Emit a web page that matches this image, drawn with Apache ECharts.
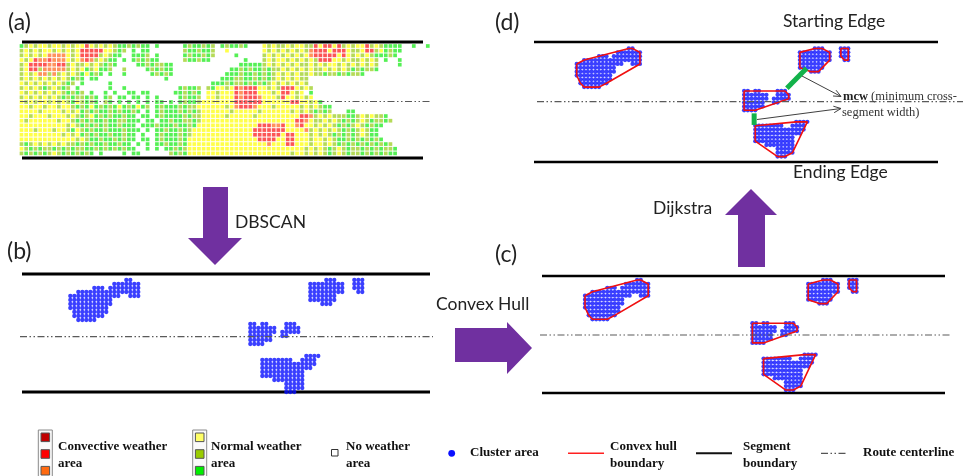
<!DOCTYPE html>
<html>
<head>
<meta charset="utf-8">
<script src="https://cdn.jsdelivr.net/npm/echarts@6/dist/echarts.min.js"></script>
<style>
html,body{margin:0;padding:0;background:#ffffff;}
#chart{width:964px;height:476px;}
</style>
</head>
<body>
<div id="chart"></div>
<script>
// ================= DATA =================
// Panel (a): weather cells, one string per row, groups of 8 columns.
// y = yellow, l = yellow-green, g = green (normal weather); r = red, o = orange (convective); . = no weather
const weatherRows = [
  "glylyyly ylylyyry lylylggl glgg.g.. ...glggl gl.glggl g...ylyl lylyyllr yrryrlyl yyrlylgg gg..g..g",
  "lylylyyl ylylyrrr rryylgl. g.gg.... ...lgglg gl..y... ....ylyl ylylylor rryrrryl lyrrlygl gg......",
  "lylylyoo ooylyrrr rlylgg.. gggl.g.. ...glggl gl....g. ....lyly lylylyor rrrryryl ylylgggl g.......",
  "ylyrooro ooylyoro lylgg.g. glglgg.. ...lgglg g....... g...lyly ylylylyl rrryylyl lylyl.g. .g......",
  "lyrrrroo rrlyllyl ylglg... .gglgllg g....... .......g gggglyly lylyllyl ylyylyly lylyl... .g......",
  "lyrrlooo oolylygl yggl..l. ...glglg g....... .....ggl glgglgll ylylylyl lylylylg lgllg... ........",
  "lylyoolo lylylgyg lg.g..g. ....glgl g....... ....gggl gglglgly lylyllyl lgllglgl lg...... ........",
  "lylylyly lylglg.g g....... .......g ........ ...gggll gglglgly lylyll.. ........ ........ ........",
  "ylylylyl ylgl.g.. ...g.... ........ ........ .ggglgll glglglyl ylylyl.. ........ ........ ........",
  "lylylgly lgl.g... ...g..g. ........ ..glggl. lgyylyro rrryylyl rrrylyl. ........ ........ ........",
  "ylylylyl ylglgl.g ..g.g..g g.gg.... .gglglg. yylyyyro rrryyyly rryly.g. ........ ........ ........",
  "lylylyly lglgllgl g.gl.gg. gg.g.g.. ..glggl. yylyyyro rrroyyyl ryylyly. ........ ........ ........",
  "ylylyyly lylgylgl g.lg.g.g .g.g.gg. g.glggly yyyyyyrr rrrryyyy yyrryyly g....... ........ ........",
  "yylyylyy lyylglgy glglgygl gygl.glg gglgllyy yyyylyor rroyyyly yyyylyly lgg..... ........ ........",
  "yyyylyyy ylylyglg lgglglgg lg.g.glg gglglgly yyyyylyy yyylyyyy yylylylg lgl...gg ........ ........",
  "yylyyyly yylylgly glglgglg g.gg.glg ggglglly yyyylyyy yylyyyyy yyyyrrol ylylllgg lylyllg. ........",
  "ylyyyyyy lyylglgl gglggllg gg.gg.gg lggllgly yyyyyyyy yyyyyyyy yyyrroyl lylylglg lylgllgl ........",
  "yyyyyyyy yylylglg lglgglgg g.ggglgg glgglgyy yyyyyyyy yyyrrroo ryyoryyl ylylglgl ylglgg.. ........",
  "yyylyyyl yylgylgl gglggglg gg.g.ggl gglglyyy yyyyyyyy yyrrrrrr ryyyyoly lylylglg lylgg... ........",
  "yyyyyyyy ylylyglg lgglgglg g.g..glg gglglyyy yyyyyyyy yyrrrrrr yrryyyly lylglglg lylgg... ........",
  "yyyyyyyy yyyylylg glgglglg g.gg.glg gglgyyyy yyyyyyyy yyyrrrry yrryyyly ylylgglg lglglg.. ........",
  "lglylyly lyllglgl gglgglgg .g.g.ggl gglgyyyy yyyyyyyy yyyyyoyy yrryyyly ylylglgl glglglgl ........",
  "ylglgllg lglgllgg lglglglg g..g.g.g glglyyyy yyyyyyyy yyyyyyyy yyyyylyl ylglylgl lglglgll g.......",
  "lglglgly lglglglg .g....g. gg...... lglgyyyy yyyyyyyy yyyyyyyy yylyylyl ylglylgl lglglglg g......."
];

// Panels (b)-(d): DBSCAN clusters, '#' = clustered cell; origin = [column, row] of the first character
const cluster1Origin = [0, 0];
const cluster1Rows = [
  "..............##",
  "...........#######",
  "......###.########",
  "..################",
  "#############..###",
  "###########",
  "###########",
  "##########",
  ".#########",
  ".########",
  "..#####"
];
const cluster2Origin = [60, 0];
const cluster2Rows = [
  "....###",
  "#########",
  "#########",
  "#########",
  "#######",
  "#######",
  "...###"
];
const cluster3Origin = [71, 0];
const cluster3Rows = [
  "###",
  "###",
  "###",
  ".##"
];
const cluster4Origin = [45, 11];
const cluster4Rows = [
  "##.##....###",
  "#######..####",
  "#######.#####",
  "######..##",
  "######",
  "####"
];
const cluster5Origin = [48, 19];
const cluster5Rows = [
  "...........####",
  "########..####",
  "##############",
  "#############",
  "###########",
  "###########",
  "...########",
  "......#####",
  "......#####",
  "......###"
];

// minimum cross-segment width links found by Dijkstra (panel d), in cluster cells
const mcwSegments = [
  [[61.8, 5.1], [56.5, 10.3]],
  [[47.7, 16.8], [47.7, 19.8]]
];

const panelLabels = ["(a)", "(b)", "(c)", "(d)"];
const stepLabels = ["DBSCAN", "Convex Hull", "Dijkstra"];
const edgeLabels = ["Starting Edge", "Ending Edge"];
const mcwLabel = ["mcw", " (minimum cross-", "segment width)"];
const legendLabels = [
  ["Convective weather", "area"],
  ["Normal weather", "area"],
  ["No weather", "area"],
  ["Cluster area"],
  ["Convex hull", "boundary"],
  ["Segment", "boundary"],
  ["Route centerline"]
];

// ================= LAYOUT / STYLE =================
const weatherPalette = { y: "#ffff1c", l: "#a3d12e", g: "#2aec2a", r: "#fb2b2b", o: "#ff7733" };
const PANELS = {
  a: { left: 22, right: 423, top: 42, bottom: 158, x0: 21.5, sx: 4.67, y0: 46, sy: 4.67, cl: 101.5, clx: [20, 430], lw: 3 },
  b: { left: 22, right: 430, top: 274, bottom: 392, x0: 70.3, sx: 4, y0: 280, sy: 4, cl: 336.7, clx: [20, 433], lw: 3 },
  c: { left: 542, right: 945, top: 276, bottom: 393, x0: 585, sx: 3.72, y0: 280, sy: 3.93, cl: 335, clx: [540, 952], lw: 2.6 },
  d: { left: 534, right: 938, top: 42, bottom: 162, x0: 576.7, sx: 3.72, y0: 48.5, sy: 3.86, cl: 101.7, clx: [537, 963], lw: 2.6 }
};
const order = ["a", "b", "c", "d"];
const FONT_SANS = "Lato, 'Open Sans', sans-serif";
const FONT_SERIF = "'Liberation Serif', 'DejaVu Serif', serif";
const PURPLE = "#7030a0";
const CENTER_DASH = [7, 2.5, 1.5, 2.5, 1.5, 2.5];

const grid = order.map(k => {
  const p = PANELS[k];
  return { left: p.left, top: p.top, width: p.right - p.left, height: p.bottom - p.top, show: false };
});
const xAxis = order.map((k, i) => {
  const p = PANELS[k];
  return { type: "value", gridIndex: i, min: (p.left - p.x0) / p.sx, max: (p.right - p.x0) / p.sx, show: false };
});
const yAxis = order.map((k, i) => {
  const p = PANELS[k];
  return { type: "value", gridIndex: i, inverse: true, min: (p.top - p.y0) / p.sy, max: (p.bottom - p.y0) / p.sy, show: false };
});

// ---- series ----
const series = [];
Object.keys(weatherPalette).forEach(key => {
  const pts = [];
  weatherRows.forEach((row, r) => {
    row.split(" ").forEach((grp, gi) => {
      for (let j = 0; j < grp.length; j++) if (grp[j] === key) pts.push([gi * 8 + j, r]);
    });
  });
  series.push({
    type: "scatter", xAxisIndex: 0, yAxisIndex: 0, symbol: "rect", symbolSize: 3.7,
    itemStyle: { color: weatherPalette[key] }, data: pts, silent: true, clip: false
  });
});

const clusters = [
  [cluster1Origin, cluster1Rows], [cluster2Origin, cluster2Rows], [cluster3Origin, cluster3Rows],
  [cluster4Origin, cluster4Rows], [cluster5Origin, cluster5Rows]
];
function cellsOf(origin, rows) {
  const pts = [];
  rows.forEach((row, i) => {
    for (let j = 0; j < row.length; j++) if (row[j] === "#") pts.push([origin[0] + j, origin[1] + i]);
  });
  return pts;
}
function hull(points) {
  const p = points.slice().sort((a, b) => a[0] - b[0] || a[1] - b[1]);
  const cross = (o, a, b) => (a[0] - o[0]) * (b[1] - o[1]) - (a[1] - o[1]) * (b[0] - o[0]);
  const lower = [], upper = [];
  for (const q of p) { while (lower.length >= 2 && cross(lower[lower.length - 2], lower[lower.length - 1], q) <= 0) lower.pop(); lower.push(q); }
  for (let i = p.length - 1; i >= 0; i--) { const q = p[i]; while (upper.length >= 2 && cross(upper[upper.length - 2], upper[upper.length - 1], q) <= 0) upper.pop(); upper.push(q); }
  upper.pop(); lower.pop();
  const h = lower.concat(upper);
  h.push(h[0]);
  return h;
}
const clusterCells = clusters.map(c => cellsOf(c[0], c[1]));
const allCells = [].concat(...clusterCells);
[1, 2, 3].forEach(gi => {
  series.push({
    type: "scatter", xAxisIndex: gi, yAxisIndex: gi, symbol: "circle", symbolSize: 4.3,
    itemStyle: { color: "#0a10ff" }, data: allCells, silent: true, clip: false
  });
});
[2, 3].forEach(gi => {
  clusterCells.forEach(cells => {
    series.push({
      type: "line", xAxisIndex: gi, yAxisIndex: gi, data: hull(cells), symbol: "none",
      lineStyle: { color: "#f01010", width: 1.6 }, silent: true, clip: false, z: 3
    });
  });
});
mcwSegments.forEach(seg => {
  series.push({
    type: "line", xAxisIndex: 3, yAxisIndex: 3, data: seg, symbol: "none",
    lineStyle: { color: "#12b24a", width: 5 }, silent: true, clip: false, z: 4
  });
});

// ---- graphic decorations ----
const G = [];
function gLine(x1, y1, x2, y2, style, z) {
  G.push({ type: "line", shape: { x1, y1, x2, y2 }, style: Object.assign({ stroke: "#000", lineWidth: 1 }, style), silent: true, z: z || 1 });
}
function gText(x, y, str, style) {
  G.push({ type: "text", x, y, style: Object.assign({ text: str, fill: "#222", verticalAlign: "middle", align: "left" }, style), silent: true, z: 5 });
}
function gPoly(points, style) {
  G.push({ type: "polygon", shape: { points }, style: Object.assign({ fill: PURPLE }, style), silent: true });
}
function arrowHead(x1, y1, x2, y2, color) {
  const a = Math.atan2(y2 - y1, x2 - x1), L = 8, w = 0.42;
  G.push({ type: "polyline", shape: { points: [[x2 - L * Math.cos(a - w), y2 - L * Math.sin(a - w)], [x2, y2], [x2 - L * Math.cos(a + w), y2 - L * Math.sin(a + w)]] },
    style: { stroke: color, lineWidth: 1, fill: null }, silent: true, z: 5 });
}

order.forEach(k => {
  const p = PANELS[k];
  gLine(p.left, p.top, p.right, p.top, { lineWidth: p.lw, stroke: "#000" });
  gLine(p.left, p.bottom, p.right, p.bottom, { lineWidth: p.lw, stroke: "#000" });
  G.push({ type: "line", shape: { x1: p.clx[0], y1: p.cl, x2: p.clx[1], y2: p.cl },
    style: { stroke: "#5a5a5a", lineWidth: 1.2, lineDash: CENTER_DASH }, silent: true, z: 6 });
});

// panel labels
gText(8, 23, panelLabels[0], { font: "23px " + FONT_SANS, fill: "#222" });
gText(7, 252, panelLabels[1], { font: "23px " + FONT_SANS, fill: "#222" });
gText(495, 255, panelLabels[2], { font: "23px " + FONT_SANS, fill: "#222" });
gText(495, 23, panelLabels[3], { font: "23px " + FONT_SANS, fill: "#222" });

// step arrows
gPoly([[203, 187], [228, 187], [228, 238], [242, 238], [215, 265], [188, 238], [203, 238]]);
gPoly([[455, 328], [507, 328], [507, 322], [532, 348], [507, 374], [507, 362], [455, 362]]);
gPoly([[738, 267], [738, 215], [725, 215], [751, 189], [777, 215], [765, 215], [765, 267]]);
gText(235, 222, stepLabels[0], { font: "17.5px " + FONT_SANS });
gText(436, 304, stepLabels[1], { font: "17.5px " + FONT_SANS });
gText(653, 208, stepLabels[2], { font: "17.5px " + FONT_SANS });
gText(783, 21, edgeLabels[0], { font: "17.5px " + FONT_SANS });
gText(793, 172, edgeLabels[1], { font: "17.5px " + FONT_SANS });

// mcw annotation
gLine(802, 76, 841, 96.5, { stroke: "#404040", lineWidth: 1 }, 5);
arrowHead(802, 76, 841, 96.5, "#404040");
gLine(757, 119.5, 841, 108.5, { stroke: "#404040", lineWidth: 1 }, 5);
arrowHead(757, 119.5, 841, 108.5, "#404040");
G.push({ type: "text", x: 843, y: 90, silent: true, z: 7,
  style: { text: "{b|" + mcwLabel[0] + "}" + mcwLabel[1], font: "12.5px " + FONT_SERIF, fill: "#333", verticalAlign: "top",
    rich: { b: { fontWeight: "bold", fontFamily: FONT_SERIF, fontSize: 12.5, fill: "#222" } } } });
gText(842, 113, mcwLabel[2], { font: "12.5px " + FONT_SERIF, fill: "#333" });

// legend
const LF = "bold 13px " + FONT_SERIF;
function legendText(x, lines) {
  if (lines.length === 1) gText(x, 452.5, lines[0], { font: LF, fill: "#111" });
  else { gText(x, 447, lines[0], { font: LF, fill: "#111" }); gText(x, 463.5, lines[1], { font: LF, fill: "#111" }); }
}
function legendStack(x, colors) {
  G.push({ type: "rect", shape: { x: x, y: 430, width: 14, height: 50 }, style: { fill: "#fafafa", stroke: "#8a8a8a", lineWidth: 1 }, silent: true });
  colors.forEach((c, i) => {
    G.push({ type: "rect", shape: { x: x + 2.7, y: 433 + 16.7 * i, width: 8.6, height: 8.6 }, style: { fill: c, stroke: "#555", lineWidth: 1 }, silent: true, z: 2 });
  });
}
legendStack(38.3, ["#c00000", "#ff0000", "#ff6a10"]);
legendText(58, legendLabels[0]);
legendStack(192.7, ["#ffff66", "#99cc00", "#00ee00"]);
legendText(211, legendLabels[1]);
G.push({ type: "rect", shape: { x: 331.5, y: 449.5, width: 6.5, height: 6.5 }, style: { fill: "#fff", stroke: "#333", lineWidth: 1 }, silent: true });
legendText(346, legendLabels[2]);
G.push({ type: "circle", shape: { cx: 451.7, cy: 453.3, r: 3.4 }, style: { fill: "#0a10ff" }, silent: true });
legendText(470, legendLabels[3]);
gLine(568, 453.3, 604, 453.3, { stroke: "#ff2020", lineWidth: 1.6 });
legendText(610, legendLabels[4]);
gLine(696, 453.3, 732, 453.3, { stroke: "#111", lineWidth: 2 });
legendText(743, legendLabels[5]);
G.push({ type: "line", shape: { x1: 821, y1: 453.3, x2: 848, y2: 453.3 }, style: { stroke: "#555", lineWidth: 1.2, lineDash: CENTER_DASH }, silent: true });
legendText(863, legendLabels[6]);

const chart = echarts.init(document.getElementById("chart"), null, { renderer: "canvas" });
chart.setOption({
  animation: false,
  backgroundColor: "#ffffff",
  grid, xAxis, yAxis, series,
  graphic: { elements: G }
});
</script>
</body>
</html>
